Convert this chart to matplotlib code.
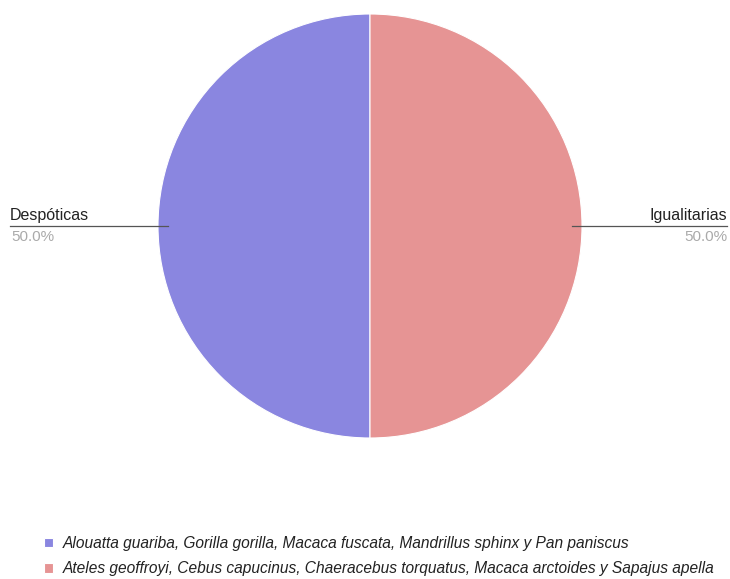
import matplotlib.pyplot as plt
from matplotlib.lines import Line2D

categories = ['Despóticas', 'Igualitarias']
values = [50.0, 50.0]
colors = ['#8a86e0', '#e69494']
legend_labels = [
    'Alouatta guariba, Gorilla gorilla, Macaca fuscata, Mandrillus sphinx y Pan paniscus',
    'Ateles geoffroyi, Cebus capucinus, Chaeracebus torquatus, Macaca arctoides y Sapajus apella',
]

W, H = 730, 579
fig = plt.figure(figsize=(W / 100, H / 100), dpi=100)
plt.rcParams['font.family'] = ['Liberation Sans', 'DejaVu Sans']

# pie centre (370, 226) px, radius 212 px
cx, cy, r = 370, 226, 212
ax = fig.add_axes([(cx - r) / W, (H - cy - r) / H, 2 * r / W, 2 * r / H])
wedges, _ = ax.pie(values, colors=colors, startangle=90, counterclock=True,
                   wedgeprops=dict(linewidth=0.8, edgecolor='white'))
ax.set_xlim(-1, 1)
ax.set_ylim(-1, 1)
ax.set_aspect('equal')
ax.axis('off')

total = sum(values)
def px(x, y):
    return x / W, 1 - y / H

# left label
fig.add_artist(Line2D([10 / W, 168 / W], [1 - 226 / H] * 2, color='#555555', lw=0.9))
fig.text(*px(10, 223), categories[0], ha='left', va='bottom', fontsize=11.5, color='#222222')
fig.text(*px(11, 230), f'{values[0] / total * 100:.1f}%', ha='left', va='top', fontsize=11, color='#aaaaaa')

# right label
fig.add_artist(Line2D([572 / W, 727 / W], [1 - 226 / H] * 2, color='#555555', lw=0.9))
fig.text(*px(727, 223), categories[1], ha='right', va='bottom', fontsize=11.5, color='#222222')
fig.text(*px(727, 230), f'{values[1] / total * 100:.1f}%', ha='right', va='top', fontsize=11, color='#aaaaaa')

fig.legend(wedges, legend_labels, loc='upper left', bbox_to_anchor=(44 / W, 1 - 536 / H),
           frameon=False, borderpad=0, borderaxespad=0,
           handlelength=0.6, handleheight=0.6, handletextpad=0.6,
           labelspacing=0.65, prop=dict(style='italic', size=11.2), labelcolor='#222222')

fig.savefig('out.png', dpi=100)
